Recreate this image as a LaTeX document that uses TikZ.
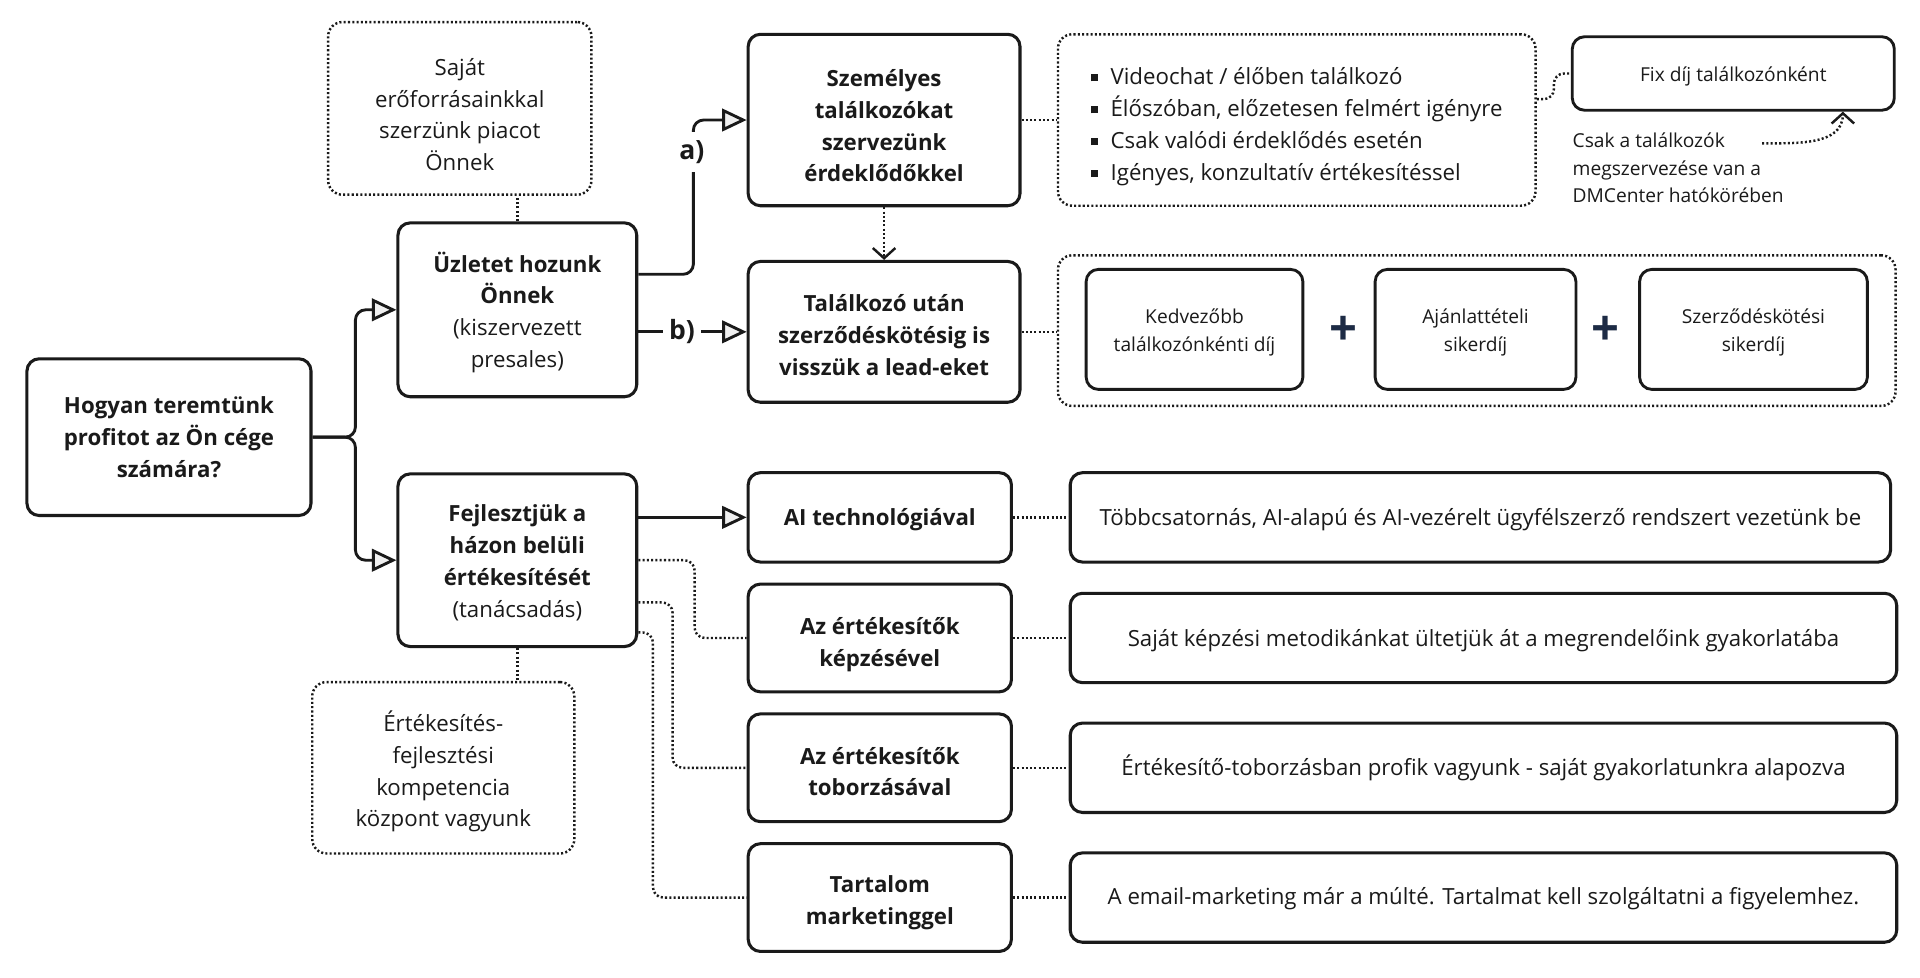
\documentclass[tikz,border=0pt]{standalone}
\usepackage{fontspec}
\setmainfont{Open Sans}
\usetikzlibrary{arrows.meta,calc}
\definecolor{ink}{HTML}{1A1A1A}
\definecolor{plusblue}{HTML}{1D2B45}
\newcommand{\bigtxt}{\fontsize{10.9}{15.6}\selectfont}
\newcommand{\smalltxt}{\fontsize{9.4}{13.5}\selectfont}
\newcommand{\sq}{\raisebox{0.3ex}{\rule{3.6pt}{3.6pt}}\hspace{6pt}}
\newcommand{\tst}[1]{\rule{0pt}{#1}}
\begin{document}
\begin{tikzpicture}[x=0.6pt,y=-0.6pt,
    wh/.style 2 args={minimum width=#1*0.6pt,minimum height=#2*0.6pt},
    box/.style={draw=ink,line width=1.5pt,rounded corners=6pt,align=center,inner sep=0pt,text=ink,font=\bigtxt},
    bbox/.style={box,font=\bigtxt\bfseries},
    sbox/.style={box,line width=1.4pt,font=\smalltxt},
    note/.style={draw=ink,line width=1.2pt,dash pattern=on 1pt off 1.1pt,rounded corners=7pt,align=center,inner sep=0pt,text=ink,font=\bigtxt},
    plus/.style={text=plusblue,font=\fontsize{24}{24}\selectfont\bfseries,inner sep=0pt},
    lbl/.style={fill=white,text=ink,font=\fontsize{13}{13}\selectfont\bfseries,inner xsep=3pt,inner ysep=4pt},
    conn/.style={draw=ink,line width=1.4pt,rounded corners=5pt},
    dots/.style={draw=ink,line width=1.2pt,dash pattern=on 1pt off 1.1pt,rounded corners=5pt},
    tri/.style={-{Triangle[length=12pt,width=11pt,fill=gray!12]}},
    barb/.style={-{Straight Barb[length=5pt,width=11pt]}}]
\path[use as bounding box,fill=white] (0,0) rectangle (1568,798);

% upper branch
\node[box,wh={232}{128}] (root) at (138,357) {\textbf{Hogyan teremtünk}\\\textbf{profitot az Ön cége}\\\textbf{számára?}};
\node[box,wh={195}{142}] (uz) at (422.5,253) {\tst{12.5pt}\textbf{Üzletet hozunk}\\\textbf{Önnek}\\(kiszervezett\\presales)};
\node[note,wh={215}{141}] (saj) at (375.5,88.5) {\tst{14.4pt}Saját\\erőforrásainkkal\\szerzünk piacot\\Önnek};
\node[bbox,wh={222}{140}] (szem) at (722,98) {\tst{13.9pt}Személyes\\találkozókat\\szervezünk\\érdeklődőkkel};
\node[bbox,wh={222}{115}] (tal) at (722,271) {\tst{11.5pt}Találkozó után\\szerződéskötésig is\\visszük a lead-eket};
\node[note,wh={390}{140},align=left] (bul) at (1059,98) {\tst{15.1pt}\sq Videochat / élőben találkozó\\\sq Élőszóban, előzetesen felmért igényre\\\sq Csak valódi érdeklődés esetén\\\sq Igényes, konzultatív értékesítéssel};
\node[sbox,wh={263}{60}] (fix) at (1415.5,60) {\tst{9.7pt}Fix díj találkozónként};
\node[font=\smalltxt,align=left,anchor=west,inner sep=0pt,text=ink] (csak) at (1284,137) {Csak a találkozók\\megszervezése van a\\DMCenter hatókörében};
\coordinate (cs) at (1439,117);
\node[note,wh={684}{123}] (fee) at (1206,270) {};
\node[sbox,wh={177}{98}] (ked) at (975.5,269) {\tst{10.3pt}Kedvezőbb\\találkozónkénti díj};
\node[plus] (p1) at (1097,270) {+};
\node[sbox,wh={164}{98}] (ajan) at (1205,269) {\tst{10.3pt}Ajánlattételi\\sikerdíj};
\node[plus] (p2) at (1311,270) {+};
\node[sbox,wh={186}{98}] (szer) at (1432,269) {\tst{10.3pt}Szerződéskötési\\sikerdíj};

% lower branch
\node[box,wh={195}{141}] (fej) at (422.5,457.5) {\tst{10.7pt}\textbf{Fejlesztjük a}\\\textbf{házon belüli}\\\textbf{értékesítését}\\(tanácsadás)};
\node[note,wh={214}{140}] (ert) at (362,627) {\tst{13.7pt}Értékesítés-\\fejlesztési\\kompetencia\\központ vagyunk};
\node[bbox,wh={215}{73}] (ai) at (718.5,422.5) {\tst{10.9pt}AI technológiával};
\node[bbox,wh={215}{88}] (kep) at (718.5,521) {\tst{14.5pt}Az értékesítők\\képzésével};
\node[bbox,wh={215}{88}] (tob) at (718.5,627) {\tst{12.1pt}Az értékesítők\\toborzásával};
\node[bbox,wh={215}{88}] (tart) at (718.5,733) {\tst{13.1pt}Tartalom\\marketinggel};
\node[box,wh={670}{73}] (r1) at (1209,422.5) {\tst{10.9pt}Többcsatornás, AI-alapú és AI-vezérelt ügyfélszerző rendszert vezetünk be};
\node[box,wh={675}{73}] (r2) at (1211.5,521) {\tst{10.9pt}Saját képzési metodikánkat ültetjük át a megrendelőink gyakorlatába};
\node[box,wh={675}{73}] (r3) at (1211.5,627) {Értékesítő-toborzásban profik vagyunk - saját gyakorlatunkra alapozva};
\node[box,wh={675}{73}] (r4) at (1211.5,733) {\tst{9.7pt}A email-marketing már a múlté. Tartalmat kell szolgáltatni a figyelemhez.};

% connectors
\draw[conn,tri] (root.east) -- ++(35,0) |- (uz.west);
\draw[conn,tri] (root.east) -- ++(35,0) |- (fej.west);
\draw[conn,tri] ($(uz.east)+(0,-29)$) -- ++(45,0) |- (szem.west);
\draw[conn,tri] ($(uz.east)+(0,18)$) -- (tal.west);
\node[lbl] (la) at (565,124) {a)};
\node[lbl] (lb) at (557,271) {b)};
\draw[dots] (uz.north) -- (uz.north |- saj.south);
\draw[dots,barb] (szem.south) -- (tal.north);
\draw[dots] (szem.east) -- (bul.west);
\draw[dots] (tal.east) -- (tal.east -| fee.west);
\draw[dots] ($(bul.east)+(0,-17)$) -- ++(14,0) |- (fix.west);
\draw[dots,barb] (cs) to[out=0,in=-90] ($(fix.south)+(89.5,0)$);

\draw[conn,tri] (fej.east |- ai.west) -- (ai.west);
\draw[dots] (fej.east) -- ++(46,0) |- (kep.west);
\draw[dots] ($(fej.east)+(0,34.5)$) -- ++(28,0) |- (tob.west);
\draw[dots] ($(fej.east)+(0,59)$) -- ++(12,0) |- (tart.west);
\draw[dots] (fej.south) -- (fej.south |- ert.north);
\draw[dots] (ai.east) -- (ai.east -| r1.west);
\draw[dots] (kep.east) -- (r2.west);
\draw[dots] (tob.east) -- (r3.west);
\draw[dots] (tart.east) -- (r4.west);
\end{tikzpicture}
\end{document}
